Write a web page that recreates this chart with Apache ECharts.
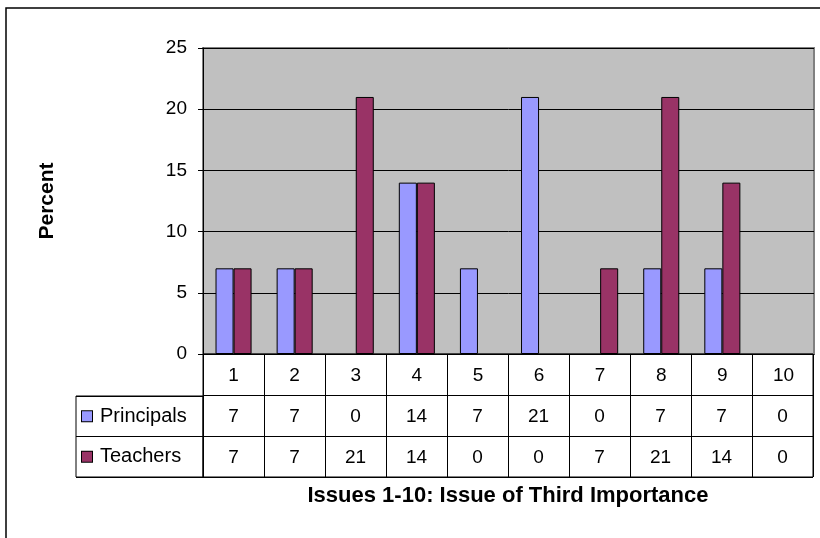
<!DOCTYPE html>
<html>
<head>
<meta charset="utf-8">
<script src="https://cdn.jsdelivr.net/npm/echarts@6/dist/echarts.min.js"></script>
<style>html,body{margin:0;padding:0;background:#fff}#c{width:820px;height:538px}</style>
</head>
<body>
<div id="c"></div>
<script>
const categories = ['1','2','3','4','5','6','7','8','9','10'];
const principals = [7, 7, 0, 14, 7, 21, 0, 7, 7, 0];
const teachers = [7, 7, 21, 14, 0, 0, 7, 21, 14, 0];
const seriesNames = ['Principals', 'Teachers'];
const yTicks = [0, 5, 10, 15, 20, 25];
const xTitle = 'Issues 1-10: Issue of Third Importance';
const yTitle = 'Percent';

const FONT = 'Liberation Sans, Arial, sans-serif';
const colors = ['#9999FF', '#993366'];

const cellData = [];
categories.forEach((c, i) => {
  cellData.push([i, 1, principals[i]]);
  cellData.push([i, 2, teachers[i]]);
});
const barData = arr => arr.map(v => v === 0 ? {value: v, itemStyle: {borderWidth: 0}} : v);

const chart = echarts.init(document.getElementById('c'), null, {renderer: 'canvas'});
chart.setOption({
  animation: false,
  backgroundColor: '#fff',
  graphic: [{
    type: 'rect', shape: {x: 6, y: 8, width: 900, height: 700},
    style: {fill: 'none', stroke: '#000', lineWidth: 1.5}, silent: true, z: 100
  }],
  grid: [
    {left: 203, top: 48, width: 611, height: 306, show: true, backgroundColor: '#C0C0C0', borderColor: '#808080', borderWidth: 2},
    {left: 203, top: 354, width: 610, height: 123, show: true, borderColor: '#000', borderWidth: 1},
    {left: 76, top: 396, width: 127, height: 81, show: true, borderColor: '#000', borderWidth: 1}
  ],
  xAxis: [
    {gridIndex: 0, type: 'category', data: categories,
     axisLine: {lineStyle: {color: '#000', width: 1}}, axisTick: {show: false},
     axisLabel: {color: '#000', fontSize: 19, fontFamily: FONT, margin: 12}},
    {gridIndex: 1, type: 'category', data: categories,
     axisLine: {show: false}, axisTick: {show: false}, axisLabel: {show: false},
     splitLine: {show: true, lineStyle: {color: '#000', width: 1}},
     name: xTitle, nameLocation: 'middle', nameGap: 8,
     nameTextStyle: {color: '#000', fontSize: 22, fontWeight: 'bold', fontFamily: FONT}},
    {gridIndex: 2, type: 'value', show: false}
  ],
  yAxis: [
    {gridIndex: 0, type: 'value', min: yTicks[0], max: yTicks[yTicks.length - 1], interval: yTicks[1] - yTicks[0],
     axisLine: {show: true, lineStyle: {color: '#000', width: 1}},
     axisTick: {show: true, length: 5, lineStyle: {color: '#000'}},
     axisLabel: {color: '#000', fontSize: 19, fontFamily: FONT, margin: 16},
     splitLine: {show: true, lineStyle: {color: '#000', width: 1}},
     name: yTitle, nameLocation: 'middle', nameGap: 145,
     nameTextStyle: {color: '#000', fontSize: 21, fontWeight: 'bold', fontFamily: FONT}},
    {gridIndex: 1, type: 'category', data: ['', seriesNames[0], seriesNames[1]], inverse: true,
     axisLine: {show: false}, axisTick: {show: false}, axisLabel: {show: false},
     splitLine: {show: true, lineStyle: {color: '#000', width: 1}}},
    {gridIndex: 2, type: 'category', data: seriesNames, inverse: true,
     axisLine: {show: false}, axisTick: {show: false},
     splitLine: {show: true, lineStyle: {color: '#000', width: 1}},
     axisLabel: {inside: true, margin: 6, align: 'left', color: '#000',
       formatter: v => (v === seriesNames[0] ? '{a|}' : '{b|}') + '{t|' + v + '}',
       rich: {
         a: {width: 10, height: 10, backgroundColor: colors[0], borderColor: '#000', borderWidth: 1},
         b: {width: 10, height: 10, backgroundColor: colors[1], borderColor: '#000', borderWidth: 1},
         t: {fontSize: 20, fontFamily: FONT, color: '#000', padding: [0, 0, 0, 8]}
       }}}
  ],
  series: [
    {name: seriesNames[0], type: 'bar', xAxisIndex: 0, yAxisIndex: 0, data: barData(principals),
     barGap: 0, barCategoryGap: '41%', itemStyle: {color: colors[0], borderColor: '#000', borderWidth: 1}},
    {name: seriesNames[1], type: 'bar', xAxisIndex: 0, yAxisIndex: 0, data: barData(teachers),
     barGap: 0, barCategoryGap: '41%', itemStyle: {color: colors[1], borderColor: '#000', borderWidth: 1}},
    {type: 'custom', xAxisIndex: 1, yAxisIndex: 1, data: cellData, encode: {x: 0, y: 1},
     renderItem: function (params, api) {
       const p = api.coord([api.value(0), api.value(1)]);
       return {type: 'text', style: {text: String(api.value(2)), x: p[0], y: p[1] + 1,
         align: 'center', verticalAlign: 'middle', textAlign: 'center', textVerticalAlign: 'middle',
         fontSize: 19, fontFamily: FONT, fill: '#000'}};
     }}
  ]
});
</script>
</body>
</html>
